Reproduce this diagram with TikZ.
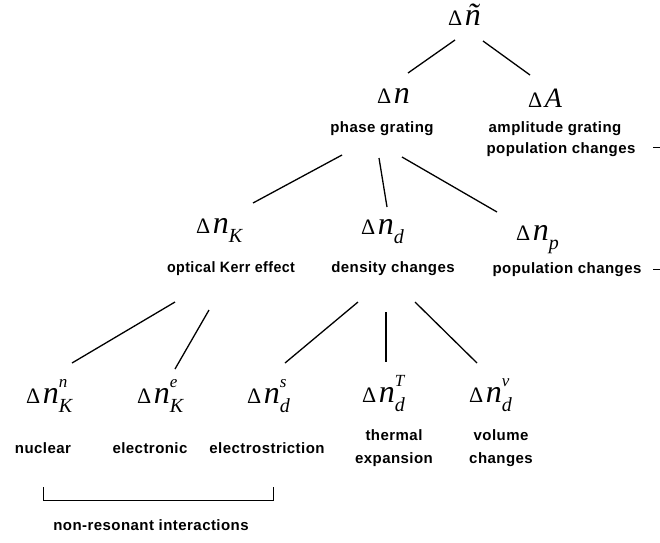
\documentclass[tikz,border=0pt]{standalone}
\usepackage{fontspec}
\setmainfont{Liberation Sans}
\newfontfamily\lblf[LetterSpace=3]{Liberation Sans}
\newfontfamily\mf{Liberation Serif}
\newcommand\Dlt{{\mf\fontsize{22}{22}\selectfont Δ}\kern2.5pt}
\newcommand\En{{\mf\itshape\fontsize{32}{32}\selectfont n}}
\newcommand\Sb[1]{\raisebox{-9.5pt}{\mf\itshape\fontsize{20}{20}\selectfont #1}}
\newcommand\SbSp[2]{\rlap{\raisebox{16pt}{\mf\itshape\fontsize{17}{17}\selectfont #2}}\Sb{#1}}
\begin{document}
\begin{tikzpicture}[x=1pt,y=-1pt,
  mathnode/.style={inner sep=0pt,anchor=base west},
  lbl/.style={inner sep=0pt,anchor=base,font=\lblf\bfseries\fontsize{15}{22}\selectfont,align=center},
  conn/.style={line width=1.3pt,black}]
\useasboundingbox (0,0) rectangle (660,542);
% math nodes
\node[mathnode] (nt) at (448,25) {\Dlt{\mf\itshape\fontsize{32}{32}\selectfont ñ}};
\node[mathnode] (dn) at (377,103) {\Dlt\En};
\node[mathnode] (dA) at (528,107) {\Dlt{\mf\itshape\fontsize{28}{28}\selectfont A}};
\node[mathnode] (dK) at (196,233) {\Dlt\En\Sb{K}};
\node[mathnode] (dd) at (361,234) {\Dlt\En\Sb{d}};
\node[mathnode] (dp) at (516,240) {\Dlt\En\Sb{p}};
\node[mathnode] (dKn) at (26,403) {\Dlt\En\SbSp{K}{n}};
\node[mathnode] (dKe) at (137,403) {\Dlt\En\SbSp{K}{e}};
\node[mathnode] (dds) at (247,403) {\Dlt\En\SbSp{d}{s}};
\node[mathnode] (ddT) at (362,402) {\Dlt\En\SbSp{d}{T}};
\node[mathnode] (ddv) at (469,402) {\Dlt\En\SbSp{d}{v}};
% labels
\node[lbl] (lphase) at (382,132) {phase grating};
\node[lbl] (lamp) at (555,132) {amplitude grating};
\node[lbl] (lpop1) at (561,153) {population changes};
\node[lbl] (lkerr) at (231,272) {\scalebox{0.95}[1]{optical Kerr effect}};
\node[lbl] (ldens) at (393,272) {density changes};
\node[lbl] (lpop2) at (567,273) {population changes};
\node[lbl] (lnuc) at (43,453) {nuclear};
\node[lbl] (lele) at (150,453) {electronic};
\node[lbl] (lstr) at (267,453) {electrostriction};
\node[lbl] (lthe) at (394,440) {thermal};
\node[lbl] (lexp) at (394,463) {expansion};
\node[lbl] (lvol) at (501,440) {volume};
\node[lbl] (lcha) at (501,463) {changes};
\node[lbl] (lnon) at (151,530) {non-resonant interactions};
% connector end points
\coordinate (a1) at (455,40);  \coordinate (a2) at (408,73);
\coordinate (b1) at (483,41);  \coordinate (b2) at (530,75);
\coordinate (c1) at (342,155); \coordinate (c2) at (253,203);
\coordinate (d1) at (379,158); \coordinate (d2) at (387,207);
\coordinate (e1) at (402,157); \coordinate (e2) at (497,212);
\coordinate (f1) at (175,302); \coordinate (f2) at (72,363);
\coordinate (g1) at (209,310); \coordinate (g2) at (175,369);
\coordinate (h1) at (358,302); \coordinate (h2) at (285,363);
\coordinate (i1) at (386,312); \coordinate (i2) at (386,362);
\coordinate (j1) at (415,302); \coordinate (j2) at (477,363);
\draw[conn] (a1) -- (a2);
\draw[conn] (b1) -- (b2);
\draw[conn] (c1) -- (c2);
\draw[conn] (d1) -- (d2);
\draw[conn] (e1) -- (e2);
\draw[conn] (f1) -- (f2);
\draw[conn] (g1) -- (g2);
\draw[conn] (h1) -- (h2);
\draw[conn] (i1) -- (i2);
\draw[conn] (j1) -- (j2);
% bracket
\coordinate (k1) at (43,487); \coordinate (k2) at (273,487);
\draw[line width=1pt] (k1) -- ++(0,13) -| (k2);
% right edge dashes
\coordinate (m1) at (653,147); \coordinate (m2) at (660,147);
\coordinate (n1) at (653,269); \coordinate (n2) at (660,269);
\draw[line width=1pt] (m1) -- (m2);
\draw[line width=1pt] (n1) -- (n2);
\end{tikzpicture}
\end{document}
